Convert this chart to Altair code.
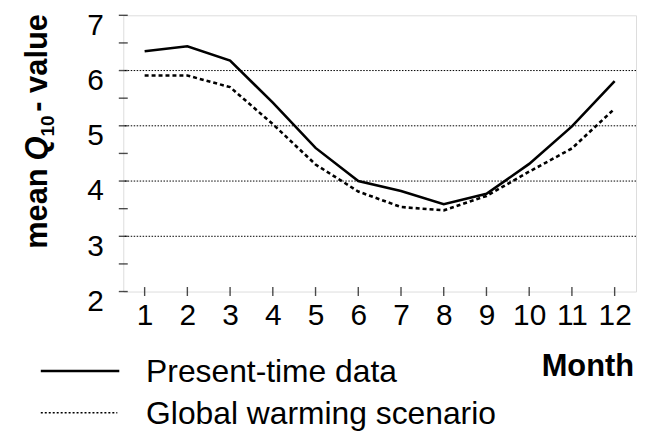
import altair as alt
import pandas as pd

months = list(range(1, 13))
present = [6.35, 6.44, 6.18, 5.42, 4.60, 4.00, 3.82, 3.58, 3.77, 4.31, 4.99, 5.81]
warming = [5.91, 5.91, 5.70, 5.03, 4.30, 3.81, 3.53, 3.47, 3.73, 4.17, 4.59, 5.31]
grid_values = [3, 4, 5, 6]
y_tick_values = [2, 2.5, 3, 3.5, 4, 4.5, 5, 5.5, 6, 6.5, 7]
y_label_values = [2, 3, 4, 5, 6, 7]

W, H = 516, 278
FONT = "Liberation Sans"

df = pd.DataFrame({"month": months, "present": present, "warming": warming})

xs = alt.Scale(domain=[0.5, 12.5], nice=False, zero=False)
ys = alt.Scale(domain=[2, 7], nice=False, zero=False)

x_axis = alt.Axis(values=months, title=None, ticks=False, domain=False, grid=False,
                  labelFont=FONT, labelFontSize=30, labelColor="black", labelPadding=9,
                  labelFlush=False, labelOverlap=False)
y_axis = alt.Axis(values=y_label_values, title=None, ticks=False, domain=False, grid=False,
                  labelFont=FONT, labelFontSize=30, labelColor="black", labelPadding=20,
                  labelOffset=10, labelFlush=False, format="d")

base = alt.Chart(df)

line_present = base.mark_line(color="black", strokeWidth=2.6).encode(
    x=alt.X("month:Q", scale=xs, axis=x_axis),
    y=alt.Y("present:Q", scale=ys, axis=y_axis),
)
line_warming = base.mark_line(color="black", strokeWidth=2.6, strokeDash=[4, 3]).encode(
    x=alt.X("month:Q", scale=xs),
    y=alt.Y("warming:Q", scale=ys),
)

grid = alt.Chart(pd.DataFrame({"g": grid_values})).mark_rule(
    color="black", strokeWidth=1, strokeDash=[1.5, 1.5]
).encode(y=alt.Y("g:Q", scale=ys))

xticks = alt.Chart(pd.DataFrame({"m": months})).mark_tick(
    orient="vertical", color="black", size=9, thickness=1.4
).encode(x=alt.X("m:Q", scale=xs), y=alt.value(H))

yticks = alt.Chart(pd.DataFrame({"v": y_tick_values})).mark_tick(
    orient="horizontal", color="black", size=9, thickness=1.4
).encode(y=alt.Y("v:Q", scale=ys), x=alt.value(0))

one = pd.DataFrame({"a": [0]})

def txt(text, x, y, size, weight="normal", style="normal", angle=0, align="left", baseline="alphabetic"):
    return alt.Chart(one).mark_text(
        text=text, font=FONT, fontSize=size, fontWeight=weight, fontStyle=style,
        angle=angle, align=align, baseline=baseline, color="black"
    ).encode(x=alt.value(x), y=alt.value(y))

# y-axis title built from parts (rotated)
TB = -77
title_parts = [
    txt("mean", TB, 235, 31, "bold", angle=270),
    txt("Q", TB, 146, 31, "bold", "italic", angle=270),
    txt("10", TB + 7, 122, 19, "bold", angle=270),
    txt("- value", TB, 97, 31, "bold", angle=270),
]

legend_solid = alt.Chart(one).mark_rule(color="black", strokeWidth=2.6).encode(
    x=alt.value(-83), x2=alt.value(-4), y=alt.value(358))
legend_dot = alt.Chart(one).mark_rule(color="black", strokeWidth=1.6, strokeDash=[2, 2]).encode(
    x=alt.value(-83), x2=alt.value(-6), y=alt.value(400))

legend_texts = [
    txt("Present-time data", 23, 359, 32, baseline="middle"),
    txt("Global warming scenario", 23, 401, 32, baseline="middle"),
    txt("Month", 514, 354, 31, "bold", align="right", baseline="middle"),
]

chart = alt.layer(
    grid, line_warming, line_present, xticks, yticks,
    *title_parts, legend_solid, legend_dot, *legend_texts
).properties(
    width=W, height=H,
    autosize=alt.AutoSizeParams(type="none"),
    padding={"left": 116, "top": 6, "right": 2, "bottom": 140},
).configure_view(
    stroke="black", strokeWidth=2
).configure(background="white")

chart.save("out.html", embed_options={"renderer": "svg", "actions": False})
